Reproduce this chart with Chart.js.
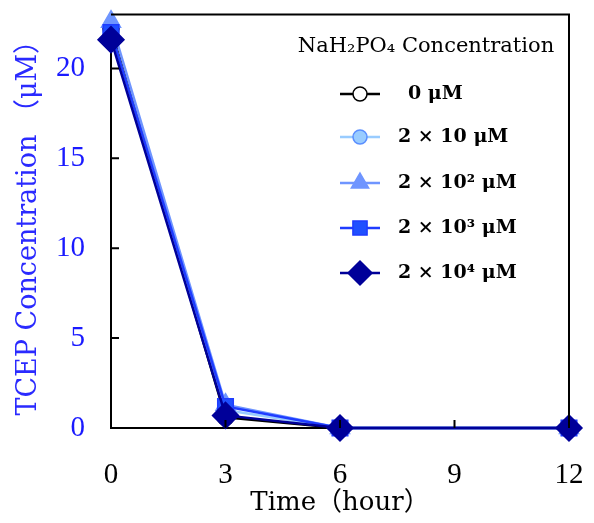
<!DOCTYPE html>
<html>
<head>
<meta charset="utf-8">
<script src="https://cdn.jsdelivr.net/npm/chart.js@4"></script>
<style>
  html, body { margin: 0; padding: 0; background: #fff; }
  #wrap { width: 594px; height: 523px; }
</style>
</head>
<body>
<div id="wrap"><canvas id="chart" width="594" height="523"></canvas></div>
<script>
// time points (hour)
const times = [0, 3, 6, 12];
const xTicks = [0, 3, 6, 9, 12];
const yTicks = [0, 5, 10, 15, 20];

const labels = ["0 μM", "2 × 10 μM", "2 × 10² μM", "2 × 10³ μM", "2 × 10⁴ μM"];
const conc0 = [22.2, 0.6, 0, 0];
const conc1 = [22.0, 1.0, 0, 0];
const conc2 = [22.6, 1.3, 0, 0];
const conc3 = [22.0, 1.2, 0, 0];
const conc4 = [21.6, 0.7, 0, 0];

const SERIF = "'DejaVu Serif', 'Noto Sans CJK JP', serif";
const NUM = "'Liberation Serif', serif";

function pts(vals) {
  return times.map((t, i) => ({ x: t, y: vals[i] }));
}

const styles = [
  { line: "#000000", fill: "#ffffff", stroke: "#000000", shape: "circle", r: 8 },
  { line: "#99ccff", fill: "#99ccff", stroke: "#5b8fff", shape: "circle", r: 8 },
  { line: "#6f95ff", fill: "#6f95ff", stroke: "#6f95ff", shape: "triangle", r: 11 },
  { line: "#1f3cff", fill: "#2050ff", stroke: "#1f3cff", shape: "rect", r: 11 },
  { line: "#000099", fill: "#000099", stroke: "#000099", shape: "rectRot", r: 13 }
];

const series = [conc0, conc1, conc2, conc3, conc4];

const datasets = series.map((vals, i) => ({
  label: labels[i],
  data: pts(vals),
  borderColor: styles[i].line,
  borderWidth: 2.5,
  pointStyle: styles[i].shape,
  pointRadius: styles[i].r,
  pointBackgroundColor: styles[i].fill,
  pointBorderColor: styles[i].stroke,
  pointBorderWidth: 1.5,
  tension: 0,
  clip: false,
  order: 5 - i
}));

// frame + inward ticks + legend
const frame = {
  id: "frame",
  afterDatasetsDraw(c) {
    const { ctx, chartArea: a, scales } = c;
    ctx.save();
    ctx.strokeStyle = "#000";
    ctx.lineWidth = 2;
    ctx.beginPath();
    ctx.moveTo(a.left, a.top);
    ctx.lineTo(a.right, a.top);
    ctx.lineTo(a.right, a.bottom);
    ctx.stroke();
    ctx.beginPath();
    yTicks.slice(1).forEach(v => {
      const y = scales.y.getPixelForValue(v);
      ctx.moveTo(a.left, y);
      ctx.lineTo(a.left + 8, y);
    });
    xTicks.slice(1, -1).forEach(v => {
      const x = scales.x.getPixelForValue(v);
      ctx.moveTo(x, a.bottom);
      ctx.lineTo(x, a.bottom - 8);
    });
    ctx.stroke();
    ctx.restore();
  },
  afterDraw(c) {
    const ctx = c.ctx;
    ctx.save();
    ctx.fillStyle = "#000";
    ctx.font = "21px " + SERIF;
    ctx.textAlign = "center";
    ctx.textBaseline = "middle";
    ctx.fillText("NaH₂PO₄ Concentration", 426, 47);
    const rows = [94, 137, 183, 228, 273];
    ctx.font = "bold 19px " + SERIF;
    ctx.textAlign = "left";
    datasets.forEach((d, i) => {
      const y = rows[i];
      ctx.strokeStyle = d.borderColor;
      ctx.lineWidth = 2.5;
      ctx.beginPath();
      ctx.moveTo(340, y);
      ctx.lineTo(380, y);
      ctx.stroke();
      ctx.fillStyle = d.pointBackgroundColor;
      ctx.strokeStyle = d.pointBorderColor;
      ctx.lineWidth = 1.5;
      Chart.helpers.drawPoint(ctx, { pointStyle: d.pointStyle, radius: d.pointRadius - 1, rotation: 0, borderWidth: 1.5 }, 360, y);
      ctx.fillStyle = "#000";
      ctx.fillText(d.label, i === 0 ? 408 : 398, y);
    });
    ctx.restore();
  }
};

const chart = new Chart(document.getElementById("chart").getContext("2d"), {
  type: "line",
  data: { datasets },
  plugins: [frame],
  options: {
    responsive: false,
    animation: false,
    layout: { padding: { top: 12, right: 25, left: 0, bottom: 0 } },
    plugins: { legend: { display: false }, tooltip: { enabled: false } },
    scales: {
      x: {
        type: "linear",
        min: 0,
        max: 12,
        afterBuildTicks: s => { s.ticks = xTicks.map(v => ({ value: v })); },
        afterFit: s => { s.height = 95; s.paddingLeft = 0; s.paddingRight = 0; },
        grid: { display: false, drawTicks: false },
        border: { display: true, color: "#000", width: 2 },
        ticks: { color: "#000", padding: 30, font: { family: NUM, size: 29 } },
        title: {
          display: true,
          text: "Time（hour）",
          color: "#000",
          font: { family: SERIF, size: 26 },
          padding: { top: 0, bottom: 4 }
        }
      },
      y: {
        min: 0,
        max: 23,
        afterBuildTicks: s => { s.ticks = yTicks.map(v => ({ value: v })); },
        afterFit: s => { s.width = 111; s.paddingTop = 0; s.paddingBottom = 0; },
        grid: { display: false, drawTicks: false },
        border: { display: true, color: "#000", width: 2 },
        ticks: { color: "#1a1aff", padding: 26, font: { family: NUM, size: 29 } },
        title: {
          display: true,
          text: "TCEP Concentration （μM）",
          color: "#2a2aff",
          font: { family: SERIF, size: 27 },
          padding: { top: 13, bottom: 0 }
        }
      }
    }
  }
});
</script>
</body>
</html>
